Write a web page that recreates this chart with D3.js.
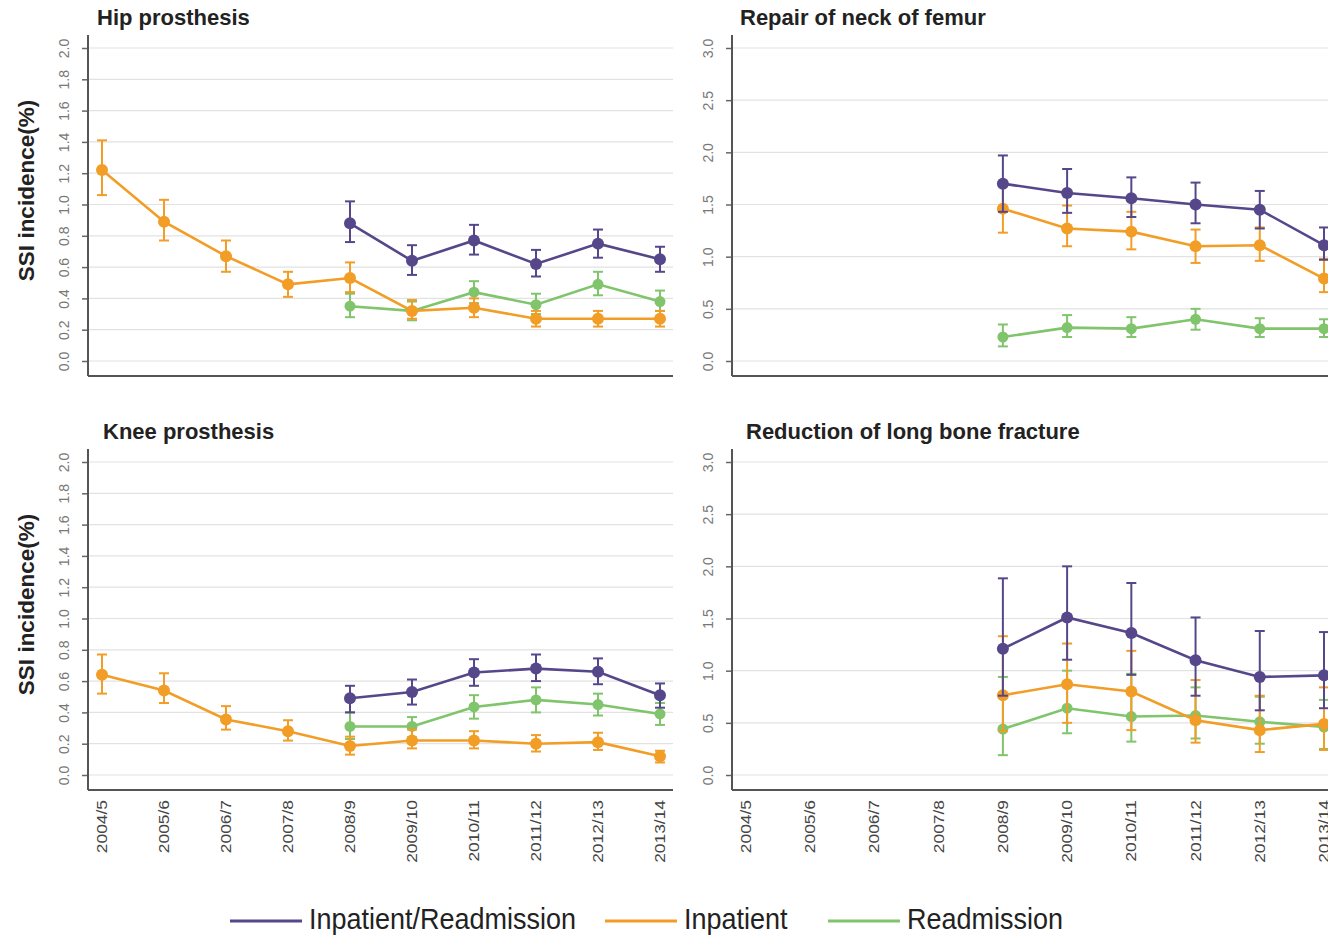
<!DOCTYPE html>
<html>
<head>
<meta charset="utf-8">
<script src="https://cdn.jsdelivr.net/npm/d3@7"></script>
<style>
  html, body { margin: 0; padding: 0; background: #fff; }
  svg { display: block; font-family: "Liberation Sans", Arial, sans-serif; }
</style>
</head>
<body>
<div id="chart"></div>
<script>
// financial years shown on every x axis
const years = ['2004/5', '2005/6', '2006/7', '2007/8', '2008/9', '2009/10', '2010/11', '2011/12', '2012/13', '2013/14'];
const seriesNames = ['Inpatient/Readmission', 'Inpatient', 'Readmission'];

// each entry: [estimate, lower CI, upper CI], null where not reported
const hipBoth = [null, null, null, null, [0.88, 0.76, 1.02], [0.64, 0.55, 0.74], [0.77, 0.68, 0.87], [0.62, 0.54, 0.71], [0.75, 0.66, 0.84], [0.65, 0.57, 0.73]];
const hipInpatient = [[1.22, 1.06, 1.41], [0.89, 0.77, 1.03], [0.67, 0.57, 0.77], [0.49, 0.41, 0.57], [0.53, 0.44, 0.63], [0.32, 0.27, 0.39], [0.34, 0.28, 0.40], [0.27, 0.22, 0.32], [0.27, 0.22, 0.32], [0.27, 0.22, 0.32]];
const hipReadmission = [null, null, null, null, [0.35, 0.28, 0.43], [0.32, 0.26, 0.38], [0.44, 0.37, 0.51], [0.36, 0.30, 0.43], [0.49, 0.42, 0.57], [0.38, 0.32, 0.45]];

const femurBoth = [null, null, null, null, [1.70, 1.43, 1.97], [1.61, 1.42, 1.84], [1.56, 1.38, 1.76], [1.50, 1.32, 1.71], [1.45, 1.27, 1.63], [1.11, 0.97, 1.28]];
const femurInpatient = [null, null, null, null, [1.46, 1.23, 1.72], [1.27, 1.10, 1.49], [1.24, 1.07, 1.43], [1.10, 0.94, 1.26], [1.11, 0.96, 1.28], [0.79, 0.66, 0.98]];
const femurReadmission = [null, null, null, null, [0.23, 0.14, 0.35], [0.32, 0.23, 0.44], [0.31, 0.23, 0.42], [0.40, 0.30, 0.50], [0.31, 0.23, 0.41], [0.31, 0.23, 0.40]];

const kneeBoth = [null, null, null, null, [0.49, 0.40, 0.57], [0.53, 0.45, 0.61], [0.655, 0.57, 0.74], [0.68, 0.60, 0.77], [0.66, 0.58, 0.745], [0.51, 0.43, 0.585]];
const kneeInpatient = [[0.64, 0.52, 0.77], [0.54, 0.46, 0.65], [0.355, 0.29, 0.44], [0.28, 0.22, 0.35], [0.185, 0.13, 0.245], [0.22, 0.17, 0.29], [0.22, 0.17, 0.28], [0.20, 0.15, 0.255], [0.21, 0.16, 0.27], [0.12, 0.08, 0.155]];
const kneeReadmission = [null, null, null, null, [0.31, 0.23, 0.40], [0.31, 0.24, 0.37], [0.435, 0.36, 0.51], [0.48, 0.40, 0.56], [0.45, 0.38, 0.52], [0.39, 0.32, 0.46]];

const boneBoth = [null, null, null, null, [1.21, 0.76, 1.885], [1.51, 1.105, 2.0], [1.36, 0.96, 1.84], [1.10, 0.76, 1.51], [0.94, 0.62, 1.38], [0.955, 0.64, 1.37]];
const boneInpatient = [null, null, null, null, [0.765, 0.42, 1.33], [0.87, 0.50, 1.26], [0.80, 0.43, 1.19], [0.525, 0.31, 0.91], [0.43, 0.22, 0.76], [0.49, 0.24, 0.84]];
const boneReadmission = [null, null, null, null, [0.44, 0.19, 0.94], [0.64, 0.40, 1.00], [0.56, 0.32, 0.97], [0.57, 0.35, 0.84], [0.51, 0.30, 0.75], [0.46, 0.25, 0.72]];

const colors = ['#56478a', '#f29d26', '#80c46c'];

const W = 1328, H = 936;
const svg = d3.select('#chart').append('svg')
  .attr('width', W)
  .attr('height', H);

const panels = [
  { title: 'Hip prosthesis', left: 88, right: 673, top: 35, bottom: 376, yMax: 2, step: 0.2,
    series: [hipBoth, hipInpatient, hipReadmission], yTitle: true, xLabels: false, titleX: 97, titleY: 25 },
  { title: 'Repair of neck of femur', left: 732, right: 1337, top: 35, bottom: 376, yMax: 3, step: 0.5,
    series: [femurBoth, femurInpatient, femurReadmission], yTitle: false, xLabels: false, titleX: 740, titleY: 25 },
  { title: 'Knee prosthesis', left: 88, right: 673, top: 449, bottom: 790, yMax: 2, step: 0.2,
    series: [kneeBoth, kneeInpatient, kneeReadmission], yTitle: true, xLabels: true, titleX: 103, titleY: 439 },
  { title: 'Reduction of long bone fracture', left: 732, right: 1337, top: 449, bottom: 790, yMax: 3, step: 0.5,
    series: [boneBoth, boneInpatient, boneReadmission], yTitle: false, xLabels: true, titleX: 746, titleY: 439 }
];

panels.forEach(function(p) {
  const g = svg.append('g');

  const x = d3.scalePoint()
    .domain(years)
    .range([p.left + 14, p.right - 13]);

  const y = d3.scaleLinear()
    .domain([0, p.yMax])
    .range([p.bottom - 15, p.top + 13]);

  const ticks = d3.range(0, p.yMax + p.step / 2, p.step);

  // grid
  g.append('g').selectAll('line')
    .data(ticks)
    .enter().append('line')
      .attr('x1', p.left)
      .attr('x2', p.right)
      .attr('y1', function(d) { return y(d); })
      .attr('y2', function(d) { return y(d); })
      .attr('stroke', '#e2e2e2')
      .attr('stroke-width', 1.2);

  // y axis
  const yAxis = g.append('g')
    .attr('transform', 'translate(' + p.left + ',0)')
    .call(d3.axisLeft(y).tickValues(ticks).tickSize(6).tickFormat(d3.format('.1f')));
  yAxis.select('.domain').remove();
  yAxis.selectAll('.tick line').attr('stroke', '#666').attr('stroke-width', 1.5);
  yAxis.selectAll('.tick text')
    .attr('x', null).attr('dy', null)
    .attr('transform', 'translate(-19,0) rotate(-90)')
    .attr('text-anchor', 'middle')
    .attr('fill', '#777')
    .style('font-size', '14px')
    .style('font-family', '"Liberation Sans", Arial, sans-serif');

  // axis lines
  g.append('line')
    .attr('x1', p.left).attr('x2', p.left)
    .attr('y1', p.top).attr('y2', p.bottom)
    .attr('stroke', '#555').attr('stroke-width', 2);
  g.append('line')
    .attr('x1', p.left).attr('x2', p.right)
    .attr('y1', p.bottom).attr('y2', p.bottom)
    .attr('stroke', '#555').attr('stroke-width', 2);

  // x labels
  if (p.xLabels) {
    g.append('g').selectAll('text')
      .data(years)
      .enter().append('text')
        .attr('transform', function(d) { return 'translate(' + (x(d) + 5) + ',' + (p.bottom + 10) + ') rotate(-90) scale(1.16,1)'; })
        .attr('text-anchor', 'end')
        .attr('fill', '#444')
        .style('font-size', '15px')
        .text(function(d) { return d; });
  }

  // title
  g.append('text')
    .attr('x', p.titleX)
    .attr('y', p.titleY)
    .attr('font-weight', 'bold')
    .attr('fill', '#222')
    .style('font-size', '22px')
    .text(p.title);

  if (p.yTitle) {
    g.append('text')
      .attr('transform', 'translate(34,' + ((p.top + p.bottom) / 2 - 15) + ') rotate(-90)')
      .attr('text-anchor', 'middle')
      .attr('font-weight', 'bold')
      .attr('fill', '#222')
      .style('font-size', '22.5px')
      .text('SSI incidence(%)');
  }

  // series, drawn readmission first so the combined line sits on top
  [2, 1, 0].forEach(function(si) {
    const pts = p.series[si]
      .map(function(v, i) { return v ? { year: years[i], est: v[0], lo: v[1], hi: v[2] } : null; })
      .filter(function(d) { return d; });
    const c = colors[si];
    const sg = g.append('g');

    const line = d3.line()
      .x(function(d) { return x(d.year); })
      .y(function(d) { return y(d.est); });

    sg.append('path')
      .datum(pts)
      .attr('d', line)
      .attr('fill', 'none')
      .attr('stroke', c)
      .attr('stroke-width', 2.6);

    const eb = sg.selectAll('.eb').data(pts).enter().append('g');
    eb.append('line')
      .attr('x1', function(d) { return x(d.year); })
      .attr('x2', function(d) { return x(d.year); })
      .attr('y1', function(d) { return y(d.lo); })
      .attr('y2', function(d) { return y(d.hi); })
      .attr('stroke', c).attr('stroke-width', 2);
    eb.append('line')
      .attr('x1', function(d) { return x(d.year) - 5; })
      .attr('x2', function(d) { return x(d.year) + 5; })
      .attr('y1', function(d) { return y(d.lo); })
      .attr('y2', function(d) { return y(d.lo); })
      .attr('stroke', c).attr('stroke-width', 2);
    eb.append('line')
      .attr('x1', function(d) { return x(d.year) - 5; })
      .attr('x2', function(d) { return x(d.year) + 5; })
      .attr('y1', function(d) { return y(d.hi); })
      .attr('y2', function(d) { return y(d.hi); })
      .attr('stroke', c).attr('stroke-width', 2);
    eb.append('circle')
      .attr('cx', function(d) { return x(d.year); })
      .attr('cy', function(d) { return y(d.est); })
      .attr('r', si === 2 ? 5.5 : 6)
      .attr('fill', c);
  });
});

// legend
const legendX = [230, 605, 828];
const legend = svg.append('g');
seriesNames.forEach(function(name, i) {
  legend.append('line')
    .attr('x1', legendX[i]).attr('x2', legendX[i] + 72)
    .attr('y1', 921).attr('y2', 921)
    .attr('stroke', colors[i]).attr('stroke-width', 3);
  legend.append('text')
    .attr('transform', 'translate(' + (legendX[i] + 79) + ',929) scale(1,1.12)')
    .attr('fill', '#222')
    .style('font-size', '27px')
    .text(name);
});
</script>
</body>
</html>
